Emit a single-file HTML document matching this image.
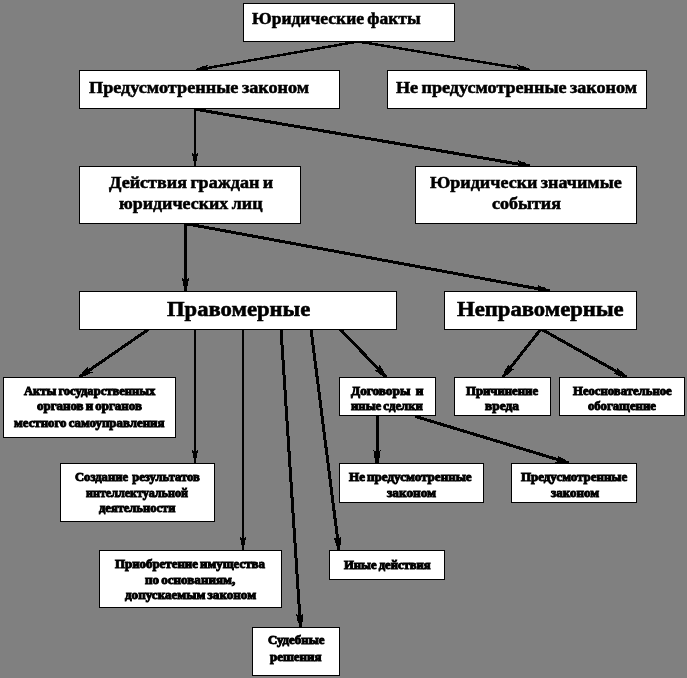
<!DOCTYPE html><html><head><meta charset="utf-8"><style>html,body{margin:0;padding:0;background:#808080;width:687px;height:678px;overflow:hidden}svg{display:block;filter:grayscale(1)}text{font-family:"Liberation Serif",serif;font-weight:bold;fill:#000}</style></head><body>
<svg width="687" height="678" viewBox="0 0 687 678">
<rect x="0" y="0" width="687" height="678" fill="#808080"/>
<line x1="358" y1="41.5" x2="201.91" y2="68.96" stroke="#000" stroke-width="2.5" shape-rendering="crispEdges"/>
<polygon points="195.78,68.77 200.18,67.79 200.53,66.92 204.91,65.84 208.66,64.07 207.11,66.78 207.54,69.24 209.93,71.26 205.80,70.87 201.31,71.35 200.68,70.65 196.22,71.23" fill="#000" shape-rendering="crispEdges"/>
<line x1="358" y1="41.5" x2="524.08" y2="69.02" stroke="#000" stroke-width="2.5" shape-rendering="crispEdges"/>
<polygon points="529.80,71.23 525.32,70.69 524.70,71.40 520.21,70.96 516.08,71.39 518.45,69.35 518.86,66.89 517.28,64.19 521.04,65.93 525.44,66.96 525.80,67.83 530.20,68.77" fill="#000" shape-rendering="crispEdges"/>
<line x1="195" y1="108" x2="195.00" y2="160.00" stroke="#000" stroke-width="2" shape-rendering="crispEdges"/>
<polygon points="194.00,166.00 193.80,161.50 193.00,161.00 192.70,156.50 191.60,152.50 194.00,154.50 196.00,154.50 198.40,152.50 197.30,156.50 197.00,161.00 196.20,161.50 196.00,166.00" fill="#000" shape-rendering="crispEdges"/>
<line x1="195" y1="109.2" x2="524.08" y2="165.00" stroke="#000" stroke-width="3" shape-rendering="crispEdges"/>
<polygon points="529.75,167.48 525.28,166.92 524.65,167.63 520.17,167.17 516.04,167.59 518.41,165.56 518.91,162.60 517.34,159.90 521.10,161.65 525.49,162.70 525.85,163.57 530.25,164.52" fill="#000" shape-rendering="crispEdges"/>
<line x1="185.5" y1="223" x2="185.50" y2="285.00" stroke="#000" stroke-width="3" shape-rendering="crispEdges"/>
<polygon points="184.00,291.00 183.80,286.50 183.00,286.00 182.70,281.50 181.60,277.50 184.00,279.50 187.00,279.50 189.40,277.50 188.30,281.50 188.00,286.00 187.20,286.50 187.00,291.00" fill="#000" shape-rendering="crispEdges"/>
<line x1="186" y1="223.7" x2="544.10" y2="289.91" stroke="#000" stroke-width="3" shape-rendering="crispEdges"/>
<polygon points="549.73,292.48 545.27,291.85 544.63,292.55 540.15,292.03 536.02,292.38 538.42,290.38 538.96,287.43 537.43,284.71 541.17,286.52 545.54,287.63 545.88,288.51 550.27,289.52" fill="#000" shape-rendering="crispEdges"/>
<line x1="149" y1="329" x2="84.44" y2="373.59" stroke="#000" stroke-width="3" shape-rendering="crispEdges"/>
<polygon points="78.65,375.77 82.24,373.04 82.19,372.10 85.73,369.30 88.39,366.12 88.11,369.23 89.81,371.70 92.82,372.54 88.91,373.91 85.03,376.22 84.17,375.84 80.35,378.23" fill="#000" shape-rendering="crispEdges"/>
<line x1="195" y1="329" x2="195.00" y2="457.00" stroke="#000" stroke-width="2" shape-rendering="crispEdges"/>
<polygon points="194.00,463.00 193.80,458.50 193.00,458.00 192.70,453.50 191.60,449.50 194.00,451.50 196.00,451.50 198.40,449.50 197.30,453.50 197.00,458.00 196.20,458.50 196.00,463.00" fill="#000" shape-rendering="crispEdges"/>
<line x1="243" y1="329" x2="243.00" y2="544.00" stroke="#000" stroke-width="2" shape-rendering="crispEdges"/>
<polygon points="242.00,550.00 241.80,545.50 241.00,545.00 240.70,540.50 239.60,536.50 242.00,538.50 244.00,538.50 246.40,536.50 245.30,540.50 245.00,545.00 244.20,545.50 244.00,550.00" fill="#000" shape-rendering="crispEdges"/>
<line x1="281" y1="329" x2="300.11" y2="621.01" stroke="#000" stroke-width="3" shape-rendering="crispEdges"/>
<polygon points="299.00,627.10 298.51,622.62 297.68,622.17 297.09,617.70 295.73,613.78 298.25,615.62 301.25,615.43 303.51,613.27 302.67,617.34 302.67,621.85 301.90,622.40 302.00,626.90" fill="#000" shape-rendering="crispEdges"/>
<line x1="311" y1="329" x2="338.25" y2="544.05" stroke="#000" stroke-width="3" shape-rendering="crispEdges"/>
<polygon points="337.51,550.19 336.75,545.75 335.89,545.35 335.03,540.93 333.43,537.10 336.07,538.78 339.04,538.40 341.17,536.12 340.58,540.22 340.85,544.73 340.12,545.32 340.49,549.81" fill="#000" shape-rendering="crispEdges"/>
<line x1="340" y1="329" x2="381.85" y2="372.67" stroke="#000" stroke-width="3" shape-rendering="crispEdges"/>
<polygon points="384.92,378.04 381.66,374.93 380.74,375.12 377.41,372.08 373.84,369.95 376.96,369.73 379.13,367.66 379.48,364.55 381.45,368.20 384.35,371.66 384.11,372.57 387.08,375.96" fill="#000" shape-rendering="crispEdges"/>
<line x1="541" y1="329" x2="506.72" y2="372.30" stroke="#000" stroke-width="3" shape-rendering="crispEdges"/>
<polygon points="501.82,376.07 504.46,372.42 504.14,371.53 506.70,367.81 508.32,363.99 508.96,367.05 511.31,368.91 514.44,368.84 511.09,371.29 508.06,374.63 507.13,374.53 504.18,377.93" fill="#000" shape-rendering="crispEdges"/>
<line x1="541" y1="329" x2="621.27" y2="374.06" stroke="#000" stroke-width="3" shape-rendering="crispEdges"/>
<polygon points="625.77,378.31 621.74,376.28 620.92,376.73 616.85,374.79 612.82,373.79 615.74,372.68 617.21,370.06 616.64,366.99 619.59,369.91 623.36,372.37 623.41,373.31 627.23,375.69" fill="#000" shape-rendering="crispEdges"/>
<line x1="377" y1="415" x2="377.00" y2="457.00" stroke="#000" stroke-width="3" shape-rendering="crispEdges"/>
<polygon points="375.50,463.00 375.30,458.50 374.50,458.00 374.20,453.50 373.10,449.50 375.50,451.50 378.50,451.50 380.90,449.50 379.80,453.50 379.50,458.00 378.70,458.50 378.50,463.00" fill="#000" shape-rendering="crispEdges"/>
<line x1="415" y1="416.3" x2="563.26" y2="461.26" stroke="#000" stroke-width="3" shape-rendering="crispEdges"/>
<polygon points="568.56,464.44 564.20,463.32 563.49,463.94 559.10,462.92 554.95,462.81 557.56,461.10 558.43,458.23 557.21,455.35 560.72,457.56 564.94,459.16 565.19,460.07 569.44,461.56" fill="#000" shape-rendering="crispEdges"/>
<rect x="243.5" y="3.5" width="211" height="38" fill="#fff" stroke="#000" stroke-width="1"/>
<rect x="79.5" y="70.5" width="260" height="38" fill="#fff" stroke="#000" stroke-width="1"/>
<rect x="387.5" y="70.5" width="259" height="38" fill="#fff" stroke="#000" stroke-width="1"/>
<rect x="79.5" y="166.5" width="221" height="57" fill="#fff" stroke="#000" stroke-width="1"/>
<rect x="415.5" y="166.5" width="221" height="57" fill="#fff" stroke="#000" stroke-width="1"/>
<rect x="79.5" y="291.5" width="317" height="38" fill="#fff" stroke="#000" stroke-width="1"/>
<rect x="444.5" y="291.5" width="192" height="38" fill="#fff" stroke="#000" stroke-width="1"/>
<rect x="3.5" y="377.5" width="172" height="60" fill="#fff" stroke="#000" stroke-width="1"/>
<rect x="339.5" y="377.5" width="96" height="38" fill="#fff" stroke="#000" stroke-width="1"/>
<rect x="454.5" y="377.5" width="96" height="38" fill="#fff" stroke="#000" stroke-width="1"/>
<rect x="559.5" y="377.5" width="125" height="38" fill="#fff" stroke="#000" stroke-width="1"/>
<rect x="60.5" y="463.5" width="154" height="58" fill="#fff" stroke="#000" stroke-width="1"/>
<rect x="339.5" y="463.5" width="144" height="39" fill="#fff" stroke="#000" stroke-width="1"/>
<rect x="511.5" y="463.5" width="125" height="39" fill="#fff" stroke="#000" stroke-width="1"/>
<rect x="99.5" y="550.5" width="182" height="57" fill="#fff" stroke="#000" stroke-width="1"/>
<rect x="329.5" y="550.5" width="115" height="29" fill="#fff" stroke="#000" stroke-width="1"/>
<rect x="252.5" y="627.5" width="87" height="48" fill="#fff" stroke="#000" stroke-width="1"/>
<text x="252.00" y="24" font-size="17.2" stroke="#000" stroke-width="0.55" word-spacing="-1" textLength="168.55" lengthAdjust="spacingAndGlyphs">Юридические факты</text>
<text x="89.00" y="93" font-size="17.2" stroke="#000" stroke-width="0.55" word-spacing="-1" textLength="220.21" lengthAdjust="spacingAndGlyphs">Предусмотренные законом</text>
<text x="396.00" y="93" font-size="17.2" stroke="#000" stroke-width="0.55" word-spacing="-1" textLength="241.05" lengthAdjust="spacingAndGlyphs">Не предусмотренные законом</text>
<text x="109.00" y="188" font-size="17.2" stroke="#000" stroke-width="0.55" word-spacing="-1" textLength="164.25" lengthAdjust="spacingAndGlyphs">Действия граждан и</text>
<text x="119.00" y="209" font-size="17.2" stroke="#000" stroke-width="0.55" word-spacing="-1" textLength="143.48" lengthAdjust="spacingAndGlyphs">юридических лиц</text>
<text x="430.00" y="188" font-size="17.2" stroke="#000" stroke-width="0.55" word-spacing="-1" textLength="191.74" lengthAdjust="spacingAndGlyphs">Юридически значимые</text>
<text x="492.00" y="209" font-size="17.2" stroke="#000" stroke-width="0.55" word-spacing="0" textLength="68.89" lengthAdjust="spacingAndGlyphs">события</text>
<text x="167.00" y="316" font-size="22.0" stroke="#000" stroke-width="0.6" word-spacing="0" textLength="143.27" lengthAdjust="spacingAndGlyphs">Правомерные</text>
<text x="457.00" y="316" font-size="22.0" stroke="#000" stroke-width="0.6" word-spacing="0" textLength="166.69" lengthAdjust="spacingAndGlyphs">Неправомерные</text>
<text x="24.00" y="395" font-size="12.2" stroke="#000" stroke-width="0.95" word-spacing="-1" textLength="131.34" lengthAdjust="spacingAndGlyphs">Акты государственных</text>
<text x="37.00" y="410" font-size="12.2" stroke="#000" stroke-width="0.95" word-spacing="-1" textLength="104.90" lengthAdjust="spacingAndGlyphs">органов и органов</text>
<text x="14.00" y="427" font-size="12.2" stroke="#000" stroke-width="0.95" word-spacing="-1" textLength="150.44" lengthAdjust="spacingAndGlyphs">местного самоуправления</text>
<text x="351.00" y="395" font-size="12.2" stroke="#000" stroke-width="0.95" word-spacing="2" textLength="72.42" lengthAdjust="spacingAndGlyphs">Договоры и</text>
<text x="351.00" y="410" font-size="12.2" stroke="#000" stroke-width="0.95" word-spacing="-1" textLength="71.89" lengthAdjust="spacingAndGlyphs">иные сделки</text>
<text x="466.00" y="395" font-size="12.2" stroke="#000" stroke-width="0.95" word-spacing="0" textLength="72.07" lengthAdjust="spacingAndGlyphs">Причинение</text>
<text x="485.00" y="410" font-size="12.2" stroke="#000" stroke-width="0.95" word-spacing="0" textLength="33.86" lengthAdjust="spacingAndGlyphs">вреда</text>
<text x="573.00" y="395" font-size="12.2" stroke="#000" stroke-width="0.95" word-spacing="0" textLength="98.77" lengthAdjust="spacingAndGlyphs">Неосновательное</text>
<text x="588.00" y="410" font-size="12.2" stroke="#000" stroke-width="0.95" word-spacing="0" textLength="67.90" lengthAdjust="spacingAndGlyphs">обогащение</text>
<text x="75.00" y="481" font-size="12.2" stroke="#000" stroke-width="0.95" word-spacing="1" textLength="124.89" lengthAdjust="spacingAndGlyphs">Создание результатов</text>
<text x="86.00" y="497" font-size="12.2" stroke="#000" stroke-width="0.95" word-spacing="0" textLength="101.94" lengthAdjust="spacingAndGlyphs">интеллектуальной</text>
<text x="99.00" y="512" font-size="12.2" stroke="#000" stroke-width="0.95" word-spacing="0" textLength="76.37" lengthAdjust="spacingAndGlyphs">деятельности</text>
<text x="349.00" y="481" font-size="12.2" stroke="#000" stroke-width="0.95" word-spacing="-1" textLength="122.63" lengthAdjust="spacingAndGlyphs">Не предусмотренные</text>
<text x="387.00" y="497" font-size="12.2" stroke="#000" stroke-width="0.95" word-spacing="0" textLength="49.15" lengthAdjust="spacingAndGlyphs">законом</text>
<text x="521.00" y="481" font-size="12.2" stroke="#000" stroke-width="0.95" word-spacing="0" textLength="106.18" lengthAdjust="spacingAndGlyphs">Предусмотренные</text>
<text x="551.00" y="497" font-size="12.2" stroke="#000" stroke-width="0.95" word-spacing="0" textLength="48.15" lengthAdjust="spacingAndGlyphs">законом</text>
<text x="115.00" y="568" font-size="12.2" stroke="#000" stroke-width="0.95" word-spacing="-1" textLength="149.88" lengthAdjust="spacingAndGlyphs">Приобретение имущества</text>
<text x="145.00" y="584" font-size="12.2" stroke="#000" stroke-width="0.95" word-spacing="-1" textLength="90.15" lengthAdjust="spacingAndGlyphs">по основаниям,</text>
<text x="125.00" y="599" font-size="12.2" stroke="#000" stroke-width="0.95" word-spacing="-1" textLength="131.05" lengthAdjust="spacingAndGlyphs">допускаемым законом</text>
<text x="344.00" y="569" font-size="12.2" stroke="#000" stroke-width="0.95" word-spacing="-1" textLength="86.66" lengthAdjust="spacingAndGlyphs">Иные действия</text>
<text x="268.00" y="644" font-size="12.2" stroke="#000" stroke-width="0.95" word-spacing="0" textLength="56.42" lengthAdjust="spacingAndGlyphs">Судебные</text>
<text x="270.00" y="661" font-size="12.2" stroke="#000" stroke-width="0.95" word-spacing="0" textLength="51.50" lengthAdjust="spacingAndGlyphs">решения</text>
</svg></body></html>
